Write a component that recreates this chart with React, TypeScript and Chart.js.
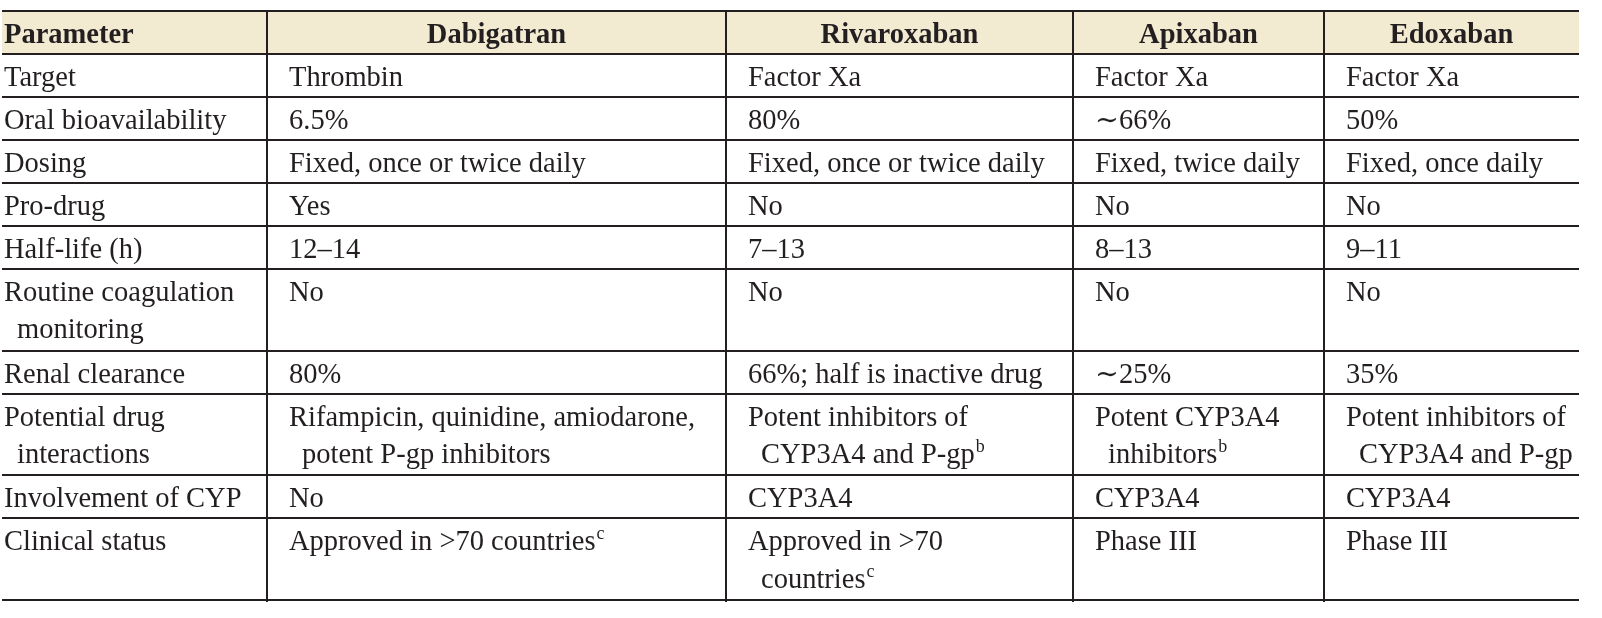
import React, { useEffect, useRef } from "react";
import { Chart, registerables } from "chart.js";

Chart.register(...registerables);

// ---------- DATA ----------
const HEADERS = ["Parameter", "Dabigatran", "Rivaroxaban", "Apixaban", "Edoxaban"];

const PARAMETERS: string[][] = [
  ["Target"],
  ["Oral bioavailability"],
  ["Dosing"],
  ["Pro-drug"],
  ["Half-life (h)"],
  ["Routine coagulation", "monitoring"],
  ["Renal clearance"],
  ["Potential drug", "interactions"],
  ["Involvement of CYP"],
  ["Clinical status"],
];

const DABIGATRAN: string[][] = [
  ["Thrombin"],
  ["6.5%"],
  ["Fixed, once or twice daily"],
  ["Yes"],
  ["12–14"],
  ["No"],
  ["80%"],
  ["Rifampicin, quinidine, amiodarone,", "potent P-gp inhibitors"],
  ["No"],
  ["Approved in >70 countries^c"],
];

const RIVAROXABAN: string[][] = [
  ["Factor Xa"],
  ["80%"],
  ["Fixed, once or twice daily"],
  ["No"],
  ["7–13"],
  ["No"],
  ["66%; half is inactive drug"],
  ["Potent inhibitors of", "CYP3A4 and P-gp^b"],
  ["CYP3A4"],
  ["Approved in >70", "countries^c"],
];

const APIXABAN: string[][] = [
  ["Factor Xa"],
  ["∼66%"],
  ["Fixed, twice daily"],
  ["No"],
  ["8–13"],
  ["No"],
  ["∼25%"],
  ["Potent CYP3A4", "inhibitors^b"],
  ["CYP3A4"],
  ["Phase III"],
];

const EDOXABAN: string[][] = [
  ["Factor Xa"],
  ["50%"],
  ["Fixed, once daily"],
  ["No"],
  ["9–11"],
  ["No"],
  ["35%"],
  ["Potent inhibitors of", "CYP3A4 and P-gp"],
  ["CYP3A4"],
  ["Phase III"],
];

const COLUMNS = [PARAMETERS, DABIGATRAN, RIVAROXABAN, APIXABAN, EDOXABAN];

// ---------- LAYOUT / STYLE ----------
const COL_WIDTHS = [265, 459, 347, 251, 255];
const HEADER_H = 42.5;
const ROW_H = 43;
const EXTRA_LINE_H = 38.5;
const FONT_FAMILY = '"Liberation Serif", "DejaVu Serif", serif';
const FONT_SIZE = 28.5;
const SUP_SIZE = 18;
const TEXT_COLOR = "#231f20";
const LINE_COLOR = "#231f20";
const HEADER_BG = "#f2ebd2";
const BASELINE_OFFSET = 32;
const LINE_SPACING = 37.5;
const PAD_FIRST = 2;
const PAD_OTHER = 22;
const CONT_INDENT = 13;

const ROW_LINES = PARAMETERS.map((_, r) => Math.max(...COLUMNS.map((c) => c[r].length)));
const COL_EDGES = COL_WIDTHS.reduce<number[]>((acc, w) => [...acc, acc[acc.length - 1] + w], [0]);
const ROW_EDGES = ROW_LINES.reduce<number[]>(
  (acc, n) => [...acc, acc[acc.length - 1] + ROW_H + (n - 1) * EXTRA_LINE_H],
  [0, HEADER_H]
);
const TOTAL_W = COL_EDGES[COL_EDGES.length - 1];
const TOTAL_H = ROW_EDGES[ROW_EDGES.length - 1];

function drawRich(ctx: CanvasRenderingContext2D, text: string, x: number, y: number) {
  const parts = text.split(/(\^\w)/).filter((p) => p.length > 0);
  let cx = x;
  for (const p of parts) {
    if (p.startsWith("^")) {
      ctx.font = `${SUP_SIZE}px ${FONT_FAMILY}`;
      const t = p.slice(1);
      ctx.fillText(t, cx + 1, y - 11);
      cx += ctx.measureText(t).width + 1;
    } else {
      ctx.font = `${FONT_SIZE}px ${FONT_FAMILY}`;
      ctx.fillText(p, cx, y);
      cx += ctx.measureText(p).width;
    }
  }
}

const tablePlugin = {
  id: "drugTable",
  afterDraw(chart: any) {
    const { ctx } = chart;
    const xs = chart.scales.x;
    const ys = chart.scales.y;
    const X = (v: number) => xs.getPixelForValue(v);
    const Y = (v: number) => ys.getPixelForValue(v);
    ctx.save();

    // header background
    ctx.fillStyle = HEADER_BG;
    ctx.fillRect(X(0), Y(0), X(TOTAL_W) - X(0), Y(HEADER_H) - Y(0));

    // header text
    ctx.fillStyle = TEXT_COLOR;
    ctx.textBaseline = "alphabetic";
    ctx.font = `bold ${FONT_SIZE}px ${FONT_FAMILY}`;
    HEADERS.forEach((h, c) => {
      if (c === 0) {
        ctx.textAlign = "left";
        ctx.fillText(h, X(COL_EDGES[c]) + PAD_FIRST, Y(0) + BASELINE_OFFSET);
      } else {
        ctx.textAlign = "center";
        ctx.fillText(h, (X(COL_EDGES[c]) + X(COL_EDGES[c + 1])) / 2, Y(0) + BASELINE_OFFSET);
      }
    });

    // body text
    ctx.textAlign = "left";
    COLUMNS.forEach((col, c) => {
      const pad = c === 0 ? PAD_FIRST : PAD_OTHER;
      col.forEach((cell, r) => {
        const top = Y(ROW_EDGES[r + 1]);
        cell.forEach((line, i) => {
          const x = X(COL_EDGES[c]) + pad + (i > 0 ? CONT_INDENT : 0);
          drawRich(ctx, line, x, top + BASELINE_OFFSET + i * LINE_SPACING);
        });
      });
    });

    // rules (snapped to whole pixels so 2px lines stay crisp)
    ctx.strokeStyle = LINE_COLOR;
    ctx.lineWidth = 2;
    const left = Math.round(X(0));
    const right = Math.round(X(TOTAL_W));
    ROW_EDGES.forEach((e) => {
      const yy = Math.round(Y(e));
      ctx.beginPath();
      ctx.moveTo(left, yy);
      ctx.lineTo(right, yy);
      ctx.stroke();
    });
    COL_EDGES.slice(1, -1).forEach((e) => {
      const xx = Math.round(X(e));
      ctx.beginPath();
      ctx.moveTo(xx, Math.round(Y(0)) - 1);
      ctx.lineTo(xx, Math.round(Y(TOTAL_H)) + 2);
      ctx.stroke();
    });
    ctx.restore();
  },
};

export default function App() {
  const ref = useRef<HTMLCanvasElement>(null);
  useEffect(() => {
    document.body.style.margin = "0";
    const chart = new Chart(ref.current as HTMLCanvasElement, {
      type: "scatter",
      data: { datasets: [{ data: [] }] },
      options: {
        responsive: false,
        animation: false,
        devicePixelRatio: 1,
        events: [],
        layout: { padding: { left: 2, right: 23, top: 11, bottom: 18 } },
        plugins: { legend: { display: false }, tooltip: { enabled: false } },
        scales: {
          x: { type: "linear", display: false, min: 0, max: TOTAL_W },
          y: { type: "linear", display: false, min: 0, max: TOTAL_H, reverse: true },
        },
      },
      plugins: [tablePlugin as any],
    });
    return () => chart.destroy();
  }, []);
  return <canvas ref={ref} width={1602} height={618} style={{ display: "block" }} />;
}
